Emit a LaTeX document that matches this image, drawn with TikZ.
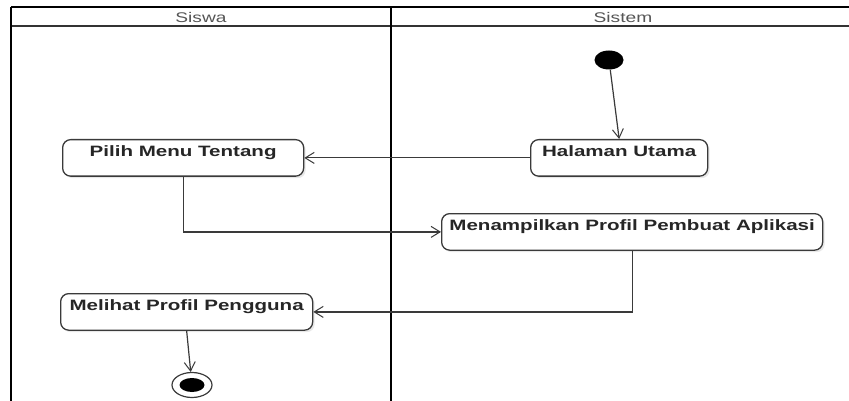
\documentclass[tikz,border=0pt]{standalone}
\usepackage{fontspec}
\setmainfont{Liberation Sans}[FakeStretch=1.37]
\usetikzlibrary{arrows.meta,shadows,shapes.geometric}
\definecolor{edgegray}{HTML}{3A3A3A}
\definecolor{headgray}{HTML}{555555}
\tikzset{
  lane/.style={line width=2.6pt, black},
  hline/.style={line width=1.8pt, black},
  action/.style={draw=edgegray, line width=1.3pt, rounded corners=8pt, fill=white,
    anchor=north west, inner xsep=0pt, inner ysep=0pt,
    text height=16.5pt, text depth=20pt, font=\fontsize{15}{17}\selectfont\bfseries,
    text=black!85,
    drop shadow={shadow xshift=2pt, shadow yshift=-2pt, opacity=0.18, fill=gray}},
  flow/.style={draw=edgegray, line width=1.2pt,
    -{Straight Barb[length=9pt, width=11pt, line width=1pt]}},
  lanehead/.style={font=\fontsize{14}{15}\selectfont, text=headgray}
}
\begin{document}
\begin{tikzpicture}[x=1pt, y=-1pt]
  \useasboundingbox[fill=white] (0,0) rectangle (849,401);

  % swimlane frame
  \draw[hline] (11,7) -- (860,7);
  \draw[line width=1.8pt, black!80] (11,26) -- (860,26);
  \draw[lane] (11,7) -- (11,405);
  \draw[lane] (391,7) -- (391,405);
  \node[lanehead] (hsiswa) at (201,17) {Siswa};
  \node[lanehead] (hsistem) at (623,17) {Sistem};

  % initial and final states
  \node[ellipse, fill=black, minimum width=29pt, minimum height=19pt, inner sep=0pt] (start) at (609,60) {};
  \node[ellipse, draw=edgegray, line width=1.2pt, fill=white, minimum width=40pt, minimum height=25pt, inner sep=0pt] (stop) at (192,385) {};
  \node[ellipse, fill=black, minimum width=25pt, minimum height=14pt, inner sep=0pt] (stopdot) at (192,385) {};

  % actions
  \node[action, minimum width=177pt] (hal) at (530,139) {Halaman Utama};
  \node[action, minimum width=241pt] (pil) at (62,139) {Pilih Menu Tentang};
  \node[action, minimum width=381pt] (men) at (441,213) {Menampilkan Profil Pembuat Aplikasi};
  \node[action, minimum width=252pt] (mel) at (60,293) {Melihat Profil Pengguna};

  % control flow
  \draw[flow] (start) -- (hal.north);
  \draw[flow] (hal.west) -- (pil.east);
  \draw[flow] (pil.south) -- (pil.south |- men.west) -- (men.west);
  \draw[flow] (men.south) -- (men.south |- mel.east) -- (mel.east);
  \draw[flow] (mel.south) -- (stop);
\end{tikzpicture}
\end{document}
